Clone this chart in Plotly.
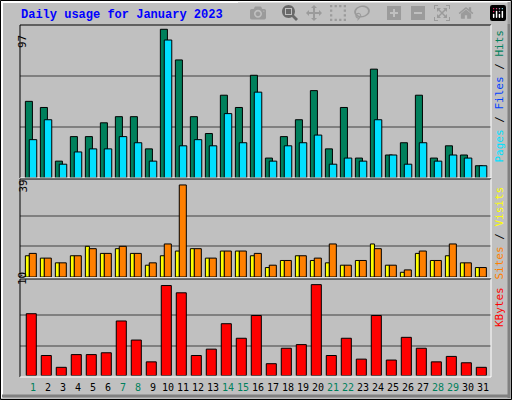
import plotly.graph_objects as go

days = list(range(1, 32))
day_labels = [str(d) for d in days]
weekend = [1, 7, 8, 14, 15, 21, 22, 28, 29]
hits = [50, 46, 11, 27, 27, 36, 40, 40, 19, 97, 77, 40, 29, 54, 46, 67, 13, 27, 38, 57, 19, 46, 13, 71, 15, 23, 54, 13, 21, 15, 8]
files = [25, 38, 9, 17, 19, 19, 27, 23, 11, 90, 21, 25, 21, 42, 23, 56, 11, 21, 23, 28, 9, 13, 11, 38, 15, 9, 23, 11, 15, 13, 8]
visits = [9, 8, 6, 9, 13, 10, 12, 10, 5, 9, 11, 12, 8, 11, 11, 9, 4, 7, 9, 7, 6, 5, 7, 14, 5, 2, 10, 7, 9, 6, 4]
sites = [10, 8, 6, 9, 12, 10, 13, 10, 6, 14, 39, 12, 8, 11, 11, 10, 5, 7, 9, 8, 14, 5, 7, 12, 5, 3, 11, 7, 14, 6, 4]
kbytes = [6.8, 2.2, 0.9, 2.3, 2.3, 2.5, 6.0, 3.9, 1.5, 9.9, 9.1, 2.2, 2.9, 5.7, 4.1, 6.6, 1.3, 3.0, 3.4, 10.0, 2.2, 4.1, 1.8, 6.6, 1.7, 4.2, 3.0, 1.5, 2.1, 1.4, 0.9]

W, H = 512, 400
def py(p):
    return 1 - p / H
def px(p):
    return p / W

fig = go.Figure()
line = dict(color="black", width=1)
fig.add_bar(x=days, y=hits, offset=-0.51, width=0.47, marker=dict(color="#00805C", line=line), yaxis="y")
fig.add_bar(x=days, y=files, offset=-0.25, width=0.5, marker=dict(color="#00E0FF", line=line), yaxis="y")
fig.add_bar(x=days, y=visits, offset=-0.51, width=0.27, marker=dict(color="#FFFF00", line=line), yaxis="y2")
fig.add_bar(x=days, y=sites, offset=-0.25, width=0.47, marker=dict(color="#FF8000", line=line), yaxis="y2")
fig.add_bar(x=days, y=kbytes, offset=-0.45, width=0.67, marker=dict(color="#FF0000", line=line), yaxis="y3")

grid = dict(showgrid=True, gridcolor="#808080", gridwidth=1.5, showticklabels=False, ticks="",
            zeroline=False, showline=False)
r1 = [0, 99.8]; r2 = [0, 41.1]; r3 = [0, 10.4]
fig.update_layout(
    width=W, height=H, margin=dict(l=0, r=0, t=0, b=0),
    paper_bgcolor="#C0C0C0", plot_bgcolor="#C0C0C0", showlegend=False, barmode="overlay",
    xaxis=dict(range=[0.133, 31.53], domain=[px(20), px(491)], tickvals=days, ticktext=[
        f'<span style="color:{"#00805C" if d in weekend else "black"}">{d}</span>' for d in days],
        showgrid=False, zeroline=False, ticks="", anchor="y3", tickangle=0, ticklabelstandoff=4,
        tickfont=dict(family="DejaVu Sans Mono", size=10, color="black")),
    yaxis=dict(domain=[py(178), py(25)], range=r1, tickvals=[33.3, 66.6], **grid),
    yaxis2=dict(domain=[py(277), py(180)], range=r2, tickvals=[13, 26], **grid),
    yaxis3=dict(domain=[py(375.5), py(281)], range=r3, tickvals=[3.3, 6.7], **grid),
)

shapes = []
def rect(x0, y0, x1, y1, color="black", w=1):
    shapes.append(dict(type="rect", xref="paper", yref="paper", x0=px(x0), x1=px(x1),
                       y0=py(y1), y1=py(y0), line=dict(color=color, width=w)))
def hl(x0, x1, y, color, w=1):
    shapes.append(dict(type="line", xref="paper", yref="paper", x0=px(x0), x1=px(x1), y0=py(y), y1=py(y), line=dict(color=color, width=w)))
def vl(x, y0, y1, color, w=1):
    shapes.append(dict(type="line", xref="paper", yref="paper", x0=px(x), x1=px(x), y0=py(y0), y1=py(y1), line=dict(color=color, width=w)))

rect(0.5, 0.5, 511.5, 399.5, "black", 1)
hl(1, 510, 2, "white", 2); vl(2, 1, 398, "white", 2)
hl(2, 510, 396, "#808080", 3); vl(509, 2, 398, "#808080", 3)
for (a, b) in [(25, 178), (179, 278), (279, 377)]:
    vl(20, a, b, "black"); hl(20, 491, a, "black")
    vl(491, a, b, "white"); hl(20, 491, b, "white")
fig.update_layout(shapes=shapes)

ann = [
    dict(x=px(19), y=py(15), xref="paper", yref="paper", xanchor="left", yanchor="middle", showarrow=False,
         text="<b>Daily usage for January 2023</b>", font=dict(family="Liberation Mono", size=12, color="#0000FF")),
    dict(x=px(14), y=py(33), xref="paper", yref="paper", textangle=-90, showarrow=False,
         text="97", font=dict(family="DejaVu Sans Mono", size=11, color="black")),
    dict(x=px(14), y=py(186), xref="paper", yref="paper", textangle=-90, showarrow=False,
         text="39", font=dict(family="DejaVu Sans Mono", size=11, color="black")),
    dict(x=px(14), y=py(287), xref="paper", yref="paper", textangle=-90, showarrow=False,
         text="10", font=dict(family="DejaVu Sans Mono", size=11, color="black")),
    dict(x=px(499), y=py(28), xref="paper", yref="paper", textangle=-90, xanchor="center", yanchor="top", showarrow=False,
         text='<span style="color:#00E0FF">Pages</span> / <span style="color:#0040FF">Files</span> / <span style="color:#00805C">Hits</span>',
         font=dict(family="DejaVu Sans Mono", size=11, color="black")),
    dict(x=px(499), y=py(185), xref="paper", yref="paper", textangle=-90, xanchor="center", yanchor="top", showarrow=False,
         text='<span style="color:#FF8000">Sites</span> / <span style="color:#FFFF00">Visits</span>',
         font=dict(family="DejaVu Sans Mono", size=11, color="black")),
    dict(x=px(499), y=py(285), xref="paper", yref="paper", textangle=-90, xanchor="center", yanchor="top", showarrow=False,
         text='<span style="color:#FF0000">KBytes</span>',
         font=dict(family="DejaVu Sans Mono", size=11, color="black")),
]
fig.update_layout(annotations=ann)
fig.write_html("out.html")
with open("out.html", encoding="utf-8") as f:
    html = f.read()
html = html.replace("<body>", '<body style="margin:0;padding:0;overflow:hidden">', 1)
with open("out.html", "w", encoding="utf-8") as f:
    f.write(html)
